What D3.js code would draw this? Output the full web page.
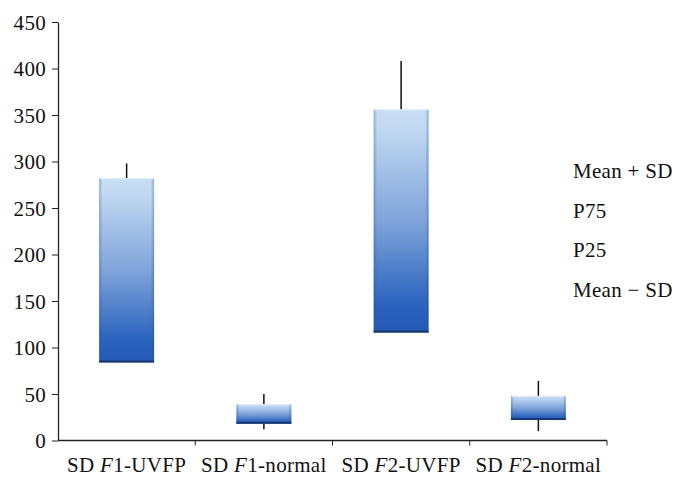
<!DOCTYPE html>
<html>
<head>
<meta charset="utf-8">
<script src="https://cdn.jsdelivr.net/npm/d3@7"></script>
<style>
  body { margin: 0; background: #fff; }
  text { font-family: "Liberation Serif", "DejaVu Serif", serif; fill: #111; letter-spacing: 0.3px; }
</style>
</head>
<body>
<div id="chart"></div>
<script>
// --- Data ---
const categories = ["F1-UVFP", "F1-normal", "F2-UVFP", "F2-normal"];
const meanPlusSD = [298, 50, 408, 64];
const p75 = [282, 39, 356, 48];
const p25 = [84, 18, 116, 22];
const meanMinusSD = [100, 12, 130, 10];
const yTicks = [0, 50, 100, 150, 200, 250, 300, 350, 400, 450];
const legendLabels = ["Mean + SD", "P75", "P25", "Mean \u2212 SD"];

const width = 686, height = 483;
const margin = { left: 58, right: 80, top: 22, bottom: 43 };
const fontSize = "21px";

const svg = d3.select("#chart").append("svg")
    .attr("width", width)
    .attr("height", height);

const x = d3.scaleBand()
    .domain(categories)
    .range([margin.left, 607])
    .paddingInner(0.6)
    .paddingOuter(0.3);

const y = d3.scaleLinear()
    .domain([0, 450])
    .range([440.5, margin.top]);

// gradient for the boxes
const defs = svg.append("defs");
const grad = defs.append("linearGradient")
    .attr("id", "boxGrad")
    .attr("x1", 0).attr("y1", 0).attr("x2", 0).attr("y2", 1);
grad.append("stop").attr("offset", "0%").attr("stop-color", "#c9def3");
grad.append("stop").attr("offset", "8%").attr("stop-color", "#c2d9f1");
grad.append("stop").attr("offset", "50%").attr("stop-color", "#7fa4da");
grad.append("stop").attr("offset", "88%").attr("stop-color", "#2a62bd");
grad.append("stop").attr("offset", "100%").attr("stop-color", "#2459b5");

const side = defs.append("linearGradient")
    .attr("id", "sideGrad")
    .attr("x1", 0).attr("y1", 0).attr("x2", 1).attr("y2", 0);
side.append("stop").attr("offset", "0%").attr("stop-color", "#1d4f9e").attr("stop-opacity", 0.35);
side.append("stop").attr("offset", "6%").attr("stop-color", "#1d4f9e").attr("stop-opacity", 0);
side.append("stop").attr("offset", "94%").attr("stop-color", "#1d4f9e").attr("stop-opacity", 0);
side.append("stop").attr("offset", "100%").attr("stop-color", "#1d4f9e").attr("stop-opacity", 0.35);

// --- Axes ---
const yAxis = svg.append("g")
    .attr("transform", `translate(${margin.left},0)`)
    .call(d3.axisLeft(y).tickValues(yTicks).tickSize(6).tickSizeOuter(0));
yAxis.attr("font-size", null).attr("font-family", null);
yAxis.select(".domain").attr("stroke", "#222").attr("stroke-width", 1.3);
yAxis.selectAll(".tick line").attr("stroke", "#222");
yAxis.selectAll("text")
    .attr("x", -12)
    .attr("dy", "0.34em")
    .style("font-size", fontSize);

const xAxis = svg.append("g")
    .attr("transform", `translate(0,${y(0)})`);
xAxis.append("line")
    .attr("x1", margin.left).attr("x2", 607)
    .attr("stroke", "#222").attr("stroke-width", 1.3);

// category dividers (ticks between groups)
const step = x.step();
const bounds = categories.map(c => x(c) - (step - x.bandwidth()) / 2 + step);
xAxis.selectAll(".ctick")
    .data(bounds)
    .join("line")
    .attr("x1", d => d).attr("x2", d => d)
    .attr("y1", 0).attr("y2", 5)
    .attr("stroke", "#222");

const xLabels = xAxis.selectAll(".xlabel")
    .data(categories)
    .join("text")
    .attr("x", d => x(d) + x.bandwidth() / 2)
    .attr("y", 31)
    .attr("text-anchor", "middle")
    .style("font-size", fontSize);
xLabels.append("tspan").text("SD ");
xLabels.append("tspan").attr("font-style", "italic").text(d => d.slice(0, 1));
xLabels.append("tspan").text(d => d.slice(1));

// --- Marks ---
const rows = categories.map((c, i) => ({
    cat: c, hi: meanPlusSD[i], open: p75[i], close: p25[i], lo: meanMinusSD[i]
}));

const g = svg.append("g");

// high-low lines behind the boxes
g.selectAll(".hl")
    .data(rows)
    .join("line")
    .attr("x1", d => x(d.cat) + x.bandwidth() / 2)
    .attr("x2", d => x(d.cat) + x.bandwidth() / 2)
    .attr("y1", d => y(d.hi))
    .attr("y2", d => y(d.lo))
    .attr("stroke", "#111")
    .attr("stroke-width", 1.5);

const box = g.selectAll(".box")
    .data(rows)
    .join("g");

box.append("rect")
    .attr("x", d => x(d.cat))
    .attr("y", d => y(d.open))
    .attr("width", x.bandwidth())
    .attr("height", d => y(d.close) - y(d.open))
    .attr("fill", "url(#boxGrad)");

box.append("rect")
    .attr("x", d => x(d.cat))
    .attr("y", d => y(d.open))
    .attr("width", x.bandwidth())
    .attr("height", d => y(d.close) - y(d.open))
    .attr("fill", "url(#sideGrad)");

// top highlight and dark bottom edge
box.append("line")
    .attr("x1", d => x(d.cat) + 1).attr("x2", d => x(d.cat) + x.bandwidth() - 1)
    .attr("y1", d => y(d.open) + 0.5).attr("y2", d => y(d.open) + 0.5)
    .attr("stroke", "#e3eefa").attr("stroke-width", 1);
box.append("line")
    .attr("x1", d => x(d.cat)).attr("x2", d => x(d.cat) + x.bandwidth())
    .attr("y1", d => y(d.close) - 1).attr("y2", d => y(d.close) - 1)
    .attr("stroke", "#17386f").attr("stroke-width", 2);

// --- Legend ---
svg.append("g")
    .selectAll("text")
    .data(legendLabels)
    .join("text")
    .attr("x", 573)
    .attr("y", (d, i) => 178 + i * 39.5)
    .style("font-size", fontSize)
    .text(d => d);
</script>
</body>
</html>
